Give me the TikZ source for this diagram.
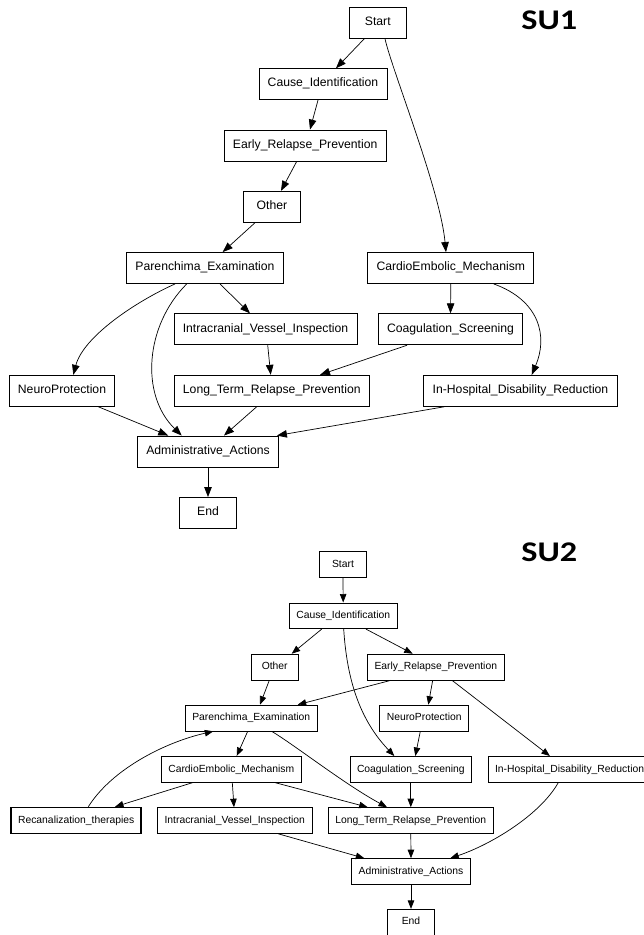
\documentclass[tikz,border=0pt]{standalone}
\usepackage{fontspec}
\setmainfont{Liberation Sans}
\newfontfamily\sulabelfont{Carlito}
\usetikzlibrary{arrows.meta}

\tikzset{
  boxa/.style={draw, line width=0.9pt, minimum height=31pt, minimum width=56.7pt,
    inner xsep=8.75pt, inner ysep=0pt, text height=0.74em, text depth=0.2em,
    font=\fontsize{12.2}{14}\selectfont},
  boxb/.style={draw, line width=0.8pt, minimum height=25.8pt, minimum width=47.3pt,
    inner xsep=7pt, inner ysep=0pt, text height=0.74em, text depth=0.2em,
    font=\fontsize{10.35}{12}\selectfont},
  boldbox/.style={boxb, line width=1.7pt},
  flowa/.style={-{Triangle[length=10pt,width=7.5pt]}, line width=0.7pt},
  flowb/.style={-{Triangle[length=8.5pt,width=6.5pt]}, line width=0.7pt},
  sutitle/.style={inner sep=0pt, font=\sulabelfont\bfseries\fontsize{28.5}{30}\selectfont},
}

\begin{document}
\begin{tikzpicture}[x=1pt,y=-1pt]
\useasboundingbox (0,0) rectangle (643,935);

% ---------------- SU1 ----------------
\node[sutitle] (su1) at (549.3,20.5) {\scalebox{1.2}[1]{SU1}};

\node[boxa] (s1start)  at (377.8,22.8)  {Start};
\node[boxa] (s1cause)  at (323,84.2)    {Cause\_Identification};
\node[boxa] (s1erp)    at (305.2,145.5) {Early\_Relapse\_Prevention};
\node[boxa] (s1other)  at (272,206.8)   {Other};
\node[boxa] (s1par)    at (205,268)     {Parenchima\_Examination};
\node[boxa] (s1ce)     at (450.8,268)   {CardioEmbolic\_Mechanism};
\node[boxa] (s1ivi)    at (265.5,329.3) {Intracranial\_Vessel\_Inspection};
\node[boxa] (s1coag)   at (450.5,329.3) {Coagulation\_Screening};
\node[boxa] (s1neuro)  at (62,390.8)    {NeuroProtection};
\node[boxa] (s1ltrp)   at (271.8,390.8) {Long\_Term\_Relapse\_Prevention};
\node[boxa] (s1ihdr)   at (520.5,390.8) {In-Hospital\_Disability\_Reduction};
\node[boxa] (s1admin)  at (208,451.5)   {Administrative\_Actions};
\node[boxa] (s1end)    at (208,513)     {End};

\draw[flowa] ([xshift=-13.5pt]s1start.south) -- ([xshift=13pt]s1cause.north);
\draw[flowa] ([xshift=7.2pt]s1start.south) .. controls +(7,31.7) and +(-6,-63) .. ([xshift=-4.8pt]s1ce.north);
\draw[flowa] ([xshift=-5pt]s1cause.south) -- ([xshift=4.8pt]s1erp.north);
\draw[flowa] ([xshift=-8.5pt]s1erp.south) -- ([xshift=9pt]s1other.north);
\draw[flowa] ([xshift=-17pt]s1other.south) -- ([xshift=17.7pt]s1par.north);
\draw[flowa] ([xshift=-30pt]s1par.south) .. controls +(-40,18) and +(10,-38) .. ([xshift=11.3pt]s1neuro.north);
\draw[flowa] ([xshift=-18.3pt]s1par.south) .. controls +(-41.7,41.7) and +(-41.7,-40.7) .. ([xshift=-26.3pt]s1admin.north);
\draw[flowa] ([xshift=15pt]s1par.south) -- ([xshift=-15.5pt]s1ivi.north);
\draw[flowa] (s1ce.south) -- (s1coag.north);
\draw[flowa] ([xshift=43pt]s1ce.south) .. controls +(46.3,16.7) and +(16.3,-38) .. ([xshift=11.2pt]s1ihdr.north);
\draw[flowa] ([xshift=2.2pt]s1ivi.south) -- ([xshift=-1.1pt]s1ltrp.north);
\draw[flowa] ([xshift=-43.5pt]s1coag.south) -- ([xshift=48.2pt]s1ltrp.north);
\draw[flowa] ([xshift=36.3pt]s1neuro.south) -- ([xshift=-39.7pt]s1admin.north);
\draw[flowa] ([xshift=-15.1pt]s1ltrp.south) -- ([xshift=16pt]s1admin.north);
\draw[flowa] ([xshift=-76.2pt]s1ihdr.south) -- ([xshift=-2pt]s1admin.north east);
\draw[flowa] (s1admin.south) -- (s1end.north);

% ---------------- SU2 ----------------
\node[sutitle] (su2) at (549.3,552) {\scalebox{1.2}[1]{SU2}};

\node[boxb] (s2start)  at (343,564.7)   {Start};
\node[boxb] (s2cause)  at (343.2,615.8) {Cause\_Identification};
\node[boxb] (s2other)  at (274.7,667)   {Other};
\node[boxb] (s2erp)    at (435.8,667)   {Early\_Relapse\_Prevention};
\node[boxb] (s2par)    at (251.3,718)   {Parenchima\_Examination};
\node[boxb] (s2neuro)  at (424.2,718)   {NeuroProtection};
\node[boxb] (s2ce)     at (231.3,769.3) {CardioEmbolic\_Mechanism};
\node[boxb] (s2coag)   at (410.8,769.3) {Coagulation\_Screening};
\node[boxb, anchor=west] (s2ihdr) at (487.7,769.3) {In-Hospital\_Disability\_Reduction};
\node[boldbox] (s2recan) at (76.2,820.5) {Recanalization\_therapies};
\node[boxb] (s2ivi)    at (234.8,820.5) {Intracranial\_Vessel\_Inspection};
\node[boxb] (s2ltrp)   at (410.8,820.5) {Long\_Term\_Relapse\_Prevention};
\node[boxb] (s2admin)  at (411,871.5)   {Administrative\_Actions};
\node[boxb] (s2end)    at (411,922.2)   {End};

\draw[flowb] (s2start.south) -- (s2cause.north);
\draw[flowb] ([xshift=-21.5pt]s2cause.south) -- ([xshift=17pt]s2other.north);
\draw[flowb] ([xshift=22.8pt]s2cause.south) -- ([xshift=-23.1pt]s2erp.north);
\draw[flowb] ([xshift=0.5pt]s2cause.south) .. controls +(3.3,51.3) and +(-34.3,-36) .. ([xshift=-16.5pt]s2coag.north);
\draw[flowb] ([xshift=-5.4pt]s2other.south) -- ([xshift=8.7pt]s2par.north);
\draw[flowb] ([xshift=-44.8pt]s2erp.south) -- ([xshift=46.4pt]s2par.north);
\draw[flowb] ([xshift=-3.1pt]s2erp.south) -- ([xshift=4.1pt]s2neuro.north);
\draw[flowb] ([xshift=16.2pt]s2erp.south) -- ([xshift=-19.7pt]s2ihdr.north);
\draw[flowb] ([xshift=-3.6pt]s2par.south) -- ([xshift=5.4pt]s2ce.north);
\draw[flowb] ([xshift=20.4pt]s2par.south) .. controls +(23.3,14) and +(-42,-22.7) .. ([xshift=-23.8pt]s2ltrp.north);
\draw[flowb] ([xshift=-3.9pt]s2neuro.south) -- ([xshift=4.5pt]s2coag.north);
\draw[flowb] ([xshift=12.1pt]s2recan.north) .. controls +(23.7,-37.7) and +(-48.3,11) .. ([xshift=-38pt]s2par.south);
\draw[flowb] ([xshift=-38.6pt]s2ce.south) -- ([xshift=38.8pt]s2recan.north);
\draw[flowb] ([xshift=1pt]s2ce.south) -- ([xshift=-0.8pt]s2ivi.north);
\draw[flowb] ([xshift=43.7pt]s2ce.south) -- ([xshift=-43.1pt]s2ltrp.north);
\draw[flowb] (s2coag.south) -- (s2ltrp.north);
\draw[flowb] ([xshift=-11.3pt]s2ihdr.south) .. controls +(-18.7,33) and +(39.7,-13.3) .. ([xshift=39.3pt]s2admin.north);
\draw[flowb] ([xshift=43.5pt]s2ivi.south) -- ([xshift=-46.7pt]s2admin.north);
\draw[flowb] (s2ltrp.south) -- (s2admin.north);
\draw[flowb] (s2admin.south) -- (s2end.north);
\end{tikzpicture}
\end{document}
